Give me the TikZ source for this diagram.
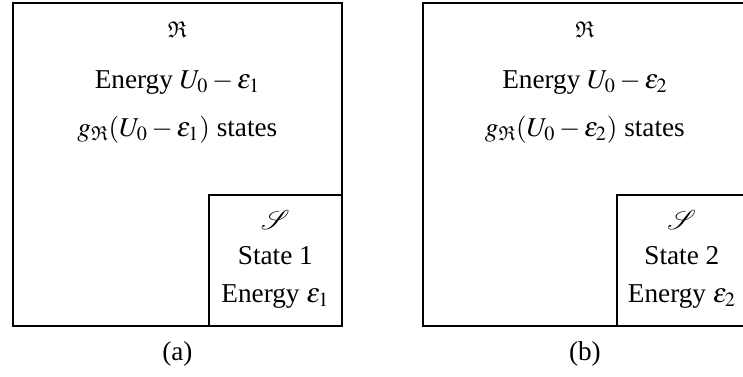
\documentclass[tikz,border=0pt]{standalone}
\usepackage{mathptmx}
\usepackage{amssymb}
\usepackage{fontspec}
\setmainfont{Liberation Serif}

\begin{document}
\begin{tikzpicture}[scale=1, font=\fontsize{15.5}{18}\selectfont]
	\tikzset{box/.style={draw, line width=1pt, inner sep=0pt}}
	\useasboundingbox (0,0) rectangle (14.86,7.54);
	% panel (a): reservoir with the system in state 1
	\node[box, minimum width=6.58cm, minimum height=6.46cm, anchor=south west] (resA) at (0.24,1.00) {};
	\node[box, minimum width=2.66cm, minimum height=2.62cm, anchor=south east] (sysA) at (resA.south east) {};
	\node[font=\fontsize{13}{15}\selectfont] (nameRA) at ([yshift=-0.54cm]resA.north) {$\mathfrak{R}$};
	\node (energyRA) at ([yshift=-1.60cm]resA.north) {Energy $U_0-\varepsilon_1$};
	\node (statesRA) at ([yshift=-2.54cm]resA.north) {$g_{\mathfrak{R}}(U_0-\varepsilon_1)$ states};
	\node (nameSA) at ([yshift=-0.52cm]sysA.north) {$\mathcal{S}$};
	\node (stateSA) at ([yshift=-1.22cm]sysA.north) {State 1};
	\node (energySA) at ([yshift=-2.04cm]sysA.north) {Energy $\varepsilon_1$};
	\node (capA) at ([yshift=-0.54cm]resA.south) {(a)};
	% panel (b): reservoir with the system in state 2
	\node[box, minimum width=6.48cm, minimum height=6.46cm, anchor=south west] (resB) at (8.44,1.00) {};
	\node[box, minimum width=2.60cm, minimum height=2.62cm, anchor=south east] (sysB) at (resB.south east) {};
	\node[font=\fontsize{13}{15}\selectfont] (nameRB) at ([yshift=-0.54cm]resB.north) {$\mathfrak{R}$};
	\node (energyRB) at ([yshift=-1.60cm]resB.north) {Energy $U_0-\varepsilon_2$};
	\node (statesRB) at ([yshift=-2.54cm]resB.north) {$g_{\mathfrak{R}}(U_0-\varepsilon_2)$ states};
	\node (nameSB) at ([yshift=-0.52cm]sysB.north) {$\mathcal{S}$};
	\node (stateSB) at ([yshift=-1.22cm]sysB.north) {State 2};
	\node (energySB) at ([yshift=-2.04cm]sysB.north) {Energy $\varepsilon_2$};
	\node (capB) at ([yshift=-0.54cm]resB.south) {(b)};
\end{tikzpicture}
\end{document}
